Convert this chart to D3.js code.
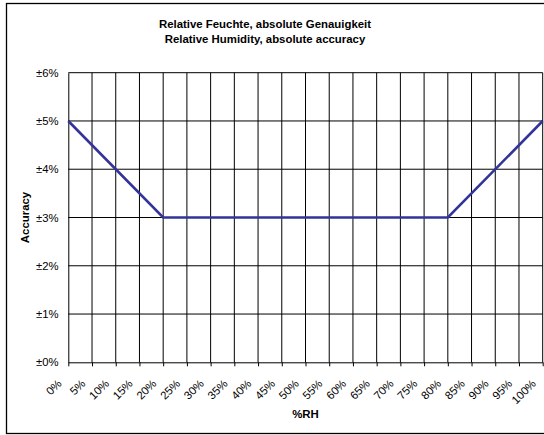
<!DOCTYPE html>
<meta charset="utf-8">
<style>
body { margin: 0; background: #fff; }
svg { display: block; font-family: Arial, "Liberation Sans", sans-serif; }
.title { font-size: 11.4px; font-weight: bold; }
.axis-title { font-size: 11.4px; font-weight: bold; }
.tick-label { font-size: 11.3px; }
</style>
<body>
<script src="https://d3js.org/d3.v7.min.js"></script>
<script>

// humidity breakpoints (%RH) and accuracy (± %RH)
var rhPoints = [0, 20, 80, 100];
var accuracy = [5, 3, 3, 5];

var xTicks = d3.range(0, 101, 5);     // 0%, 5%, ... 100%
var yTicks = [0, 1, 2, 3, 4, 5, 6];

var titleLines = ["Relative Feuchte, absolute Genauigkeit",
                  "Relative Humidity, absolute accuracy"];

var width = 544,
    height = 435;

var plot = { left: 68.3, right: 542.7, top: 72.7, bottom: 362.3 };

var svg = d3.select("body").append("svg")
    .attr("width", width)
    .attr("height", height);

// chart area border (right side runs off the page like the original)
svg.append("rect")
    .attr("x", 6.5)
    .attr("y", 3.5)
    .attr("width", 560)
    .attr("height", 430)
    .attr("fill", "#fff")
    .attr("stroke", "#000")
    .attr("stroke-width", 1.3);

var x = d3.scaleLinear().domain([0, 100]).range([plot.left, plot.right]);
var y = d3.scaleLinear().domain([0, 6]).range([plot.bottom, plot.top]);

// grid
svg.append("g")
  .selectAll("line")
    .data(yTicks.slice(1))
  .enter().append("line")
    .attr("x1", plot.left).attr("x2", plot.right)
    .attr("y1", d => y(d)).attr("y2", d => y(d))
    .attr("stroke", "#000").attr("stroke-width", 1);

svg.append("g")
  .selectAll("line")
    .data(xTicks.slice(1))
  .enter().append("line")
    .attr("x1", d => x(d)).attr("x2", d => x(d))
    .attr("y1", plot.top).attr("y2", plot.bottom)
    .attr("stroke", "#000").attr("stroke-width", 1);

// axes
var xAxis = svg.append("g")
    .attr("transform", `translate(0,${plot.bottom})`)
    .call(d3.axisBottom(x).tickValues(xTicks).tickSize(4).tickSizeOuter(0).tickFormat(""));
xAxis.select(".domain").attr("stroke", "#000");
xAxis.selectAll(".tick line").attr("stroke", "#000");

var yAxis = svg.append("g")
    .attr("transform", `translate(${plot.left},0)`)
    .call(d3.axisLeft(y).tickValues(yTicks).tickSize(0).tickSizeOuter(0).tickFormat(""));
yAxis.select(".domain").attr("stroke", "#000");

// tick labels
svg.append("g")
  .selectAll("text")
    .data(yTicks)
  .enter().append("text")
    .attr("class", "tick-label")
    .attr("x", 58.5)
    .attr("y", d => y(d) + 4)
    .attr("text-anchor", "end")
    .text(d => "\u00b1" + d + "%");

svg.append("g")
  .selectAll("text")
    .data(xTicks)
  .enter().append("text")
    .attr("class", "tick-label")
    .attr("text-anchor", "end")
    .attr("transform", d => `translate(${x(d) - 6},${plot.bottom + 22}) rotate(-45)`)
    .text(d => d + "%");

// titles
svg.append("text")
    .attr("class", "title")
    .attr("text-anchor", "middle")
    .selectAll("tspan")
    .data(titleLines)
  .enter().append("tspan")
    .attr("x", 265)
    .attr("y", (d, i) => 28 + i * 14.7)
    .text(d => d);

svg.append("text")
    .attr("class", "axis-title")
    .attr("text-anchor", "middle")
    .attr("x", (plot.left + plot.right) / 2)
    .attr("y", 418)
    .text("%RH");

svg.append("text")
    .attr("class", "axis-title")
    .attr("text-anchor", "middle")
    .attr("transform", `translate(28.5,${(plot.top + plot.bottom) / 2}) rotate(-90)`)
    .text("Accuracy");

// accuracy line
var line = d3.line()
    .x((d, i) => x(rhPoints[i]))
    .y(d => y(d));

svg.append("path")
    .datum(accuracy)
    .attr("d", line)
    .attr("fill", "none")
    .attr("stroke", "#333399")
    .attr("stroke-width", 2.6);

</script>
</body>
